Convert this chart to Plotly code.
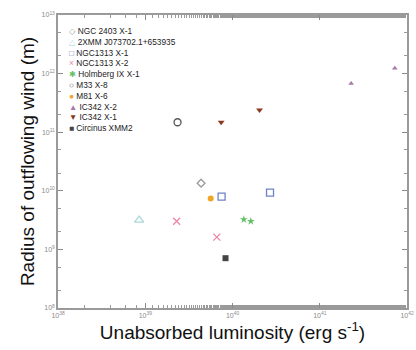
import plotly.graph_objects as go

# Data (log10 values)
names = ["NGC 2403 X-1", "2XMM J073702.1+653935", "NGC1313 X-1", "NGC1313 X-2",
         "Holmberg IX X-1", "M33 X-8", "M81 X-6", "IC342 X-2", "IC342 X-1", "Circinus XMM2"]
lum_log = [
    [39.64],
    [38.93],
    [39.875, 40.43],
    [39.36, 39.82],
    [40.13, 40.21],
    [39.37],
    [39.75],
    [41.36, 41.86],
    [39.87, 40.31],
    [39.92],
]
rad_log = [
    [10.13],
    [9.50],
    [9.90, 9.97],
    [9.48, 9.21],
    [9.51, 9.48],
    [11.17],
    [9.87],
    [11.83, 12.09],
    [11.17, 11.38],
    [8.85],
]
symbols = ["diamond-open", "triangle-up-open", "square-open", "x-thin-open", "star",
           "circle-open", "circle", "triangle-up", "triangle-down", "square"]
legend_glyphs = ["◇", "△", "□", "×", "✱", "○", "●", "▲", "▼", "■"]
colors = ["#9a9a9a", "#a9d9dc", "#6f83c4", "#e985a6", "#63c063",
          "#555555", "#f0a526", "#a878a8", "#8a3a1e", "#444444"]
sizes = [6, 8, 7, 7, 6, 7, 6, 5, 6, 6]

x_tickvals = [1e38, 1e39, 1e40, 1e41, 1e42]
x_ticktext = ["10<sup>38</sup>", "10<sup>39</sup>", "10<sup>40</sup>", "10<sup>41</sup>", "10<sup>42</sup>"]
y_tickvals = [1e8, 1e9, 1e10, 1e11, 1e12, 1e13]
y_ticktext = ["10<sup>8</sup>", "10<sup>9</sup>", "10<sup>10</sup>", "10<sup>11</sup>", "10<sup>12</sup>", "10<sup>13</sup>"]

fig = go.Figure()
for n, lx, ly, s, c, z in zip(names, lum_log, rad_log, symbols, colors, sizes):
    fig.add_trace(go.Scatter(
        x=[10 ** v for v in lx], y=[10 ** v for v in ly], mode="markers", name=n,
        showlegend=False,
        marker=dict(symbol=s, color=c, size=z, line=dict(color=c, width=1.3 if "open" in s else 0)),
    ))

# compact legend as text
legend_lines = [f"<span style='color:{c}'>{g}</span> {n}" for g, c, n in zip(legend_glyphs, colors, names)]
fig.add_annotation(
    xref="paper", yref="paper", x=0.025, y=0.968, xanchor="left", yanchor="top",
    align="left", showarrow=False, text="<br>".join(legend_lines),
    font=dict(family="Liberation Sans, DejaVu Sans, Arial", size=8.3, color="#222"),
)

axis_common = dict(
    type="log", showgrid=False, zeroline=False, showline=True, linecolor="#9a9a9a", linewidth=1.5,
    mirror="ticks", ticks="inside", ticklen=5, tickcolor="#8a8a8a", automargin=False,
    tickfont=dict(family="Liberation Sans, Arial", size=7, color="#8a8a8a"),
    minor=dict(ticks="inside", ticklen=3, tickcolor="#9a9a9a"),
)
fig.update_xaxes(range=[38, 42], tickvals=x_tickvals, ticktext=x_ticktext,
                 title=dict(text="Unabsorbed luminosity (erg s<sup>-1</sup>)", standoff=4,
                            font=dict(family="Liberation Sans, Arial", size=19, color="#111")),
                 **axis_common)
fig.update_yaxes(range=[8, 13], tickvals=y_tickvals, ticktext=y_ticktext,
                 title=dict(text="Radius of outflowing wind (m)", standoff=2,
                            font=dict(family="Liberation Sans, Arial", size=19, color="#111")),
                 **axis_common)

fig.update_layout(
    width=416, height=350, margin=dict(l=58, r=9, t=15, b=42),
    plot_bgcolor="white", paper_bgcolor="white",
    showlegend=False,
)
fig.write_html("out.html", config={"displayModeBar": False},
               post_script="document.body.style.margin='0';")
